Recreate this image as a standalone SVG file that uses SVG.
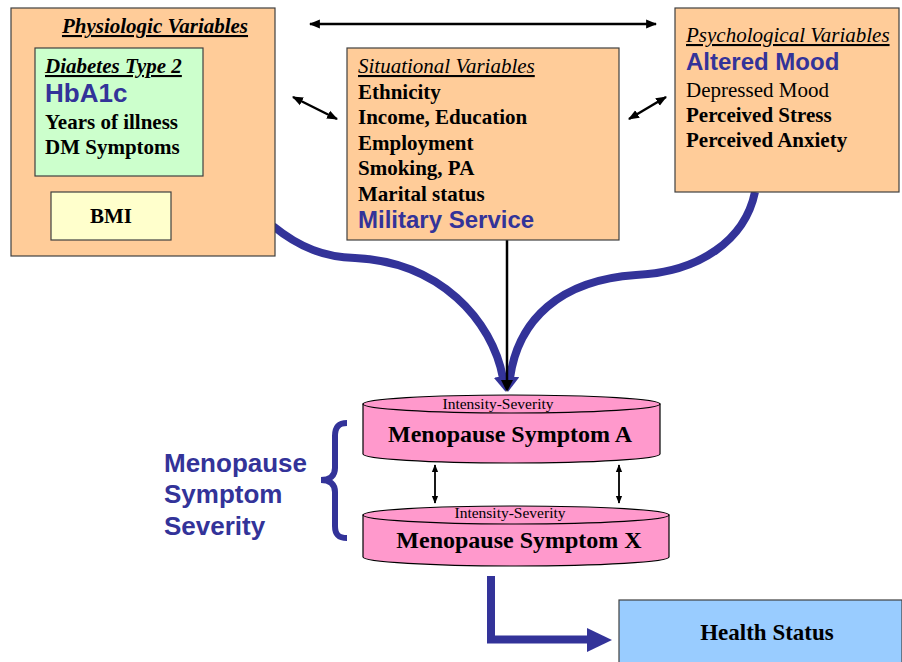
<svg xmlns="http://www.w3.org/2000/svg" width="902" height="662" viewBox="0 0 902 662">
<style>
.box{fill:#FFCC99;stroke:#404040;stroke-width:1.2}
.s{font-family:"Liberation Serif","Times New Roman",serif;font-size:21px;fill:#000}
.b{font-weight:bold}
.ti{font-style:italic;text-decoration:underline}
.small{font-size:15.5px}
.big{font-size:24px}
.blue{font-family:"Liberation Sans",Arial,sans-serif;font-weight:bold;fill:#333399}
.cyl{fill:#FF99CC;stroke:#000;stroke-width:1.2}
.bl{stroke:#000;stroke-width:2.5;fill:none}
.thick{stroke:#333399;stroke-width:8;fill:none}
</style>
<defs>
<marker id="ah" viewBox="0 0 10 10" refX="9" refY="5" markerWidth="11" markerHeight="11" markerUnits="userSpaceOnUse" orient="auto-start-reverse"><path d="M0,1 L10,5 L0,9 z" fill="#000"/></marker>
<marker id="ahs" viewBox="0 0 10 10" refX="9" refY="5" markerWidth="8" markerHeight="8" markerUnits="userSpaceOnUse" orient="auto-start-reverse"><path d="M0,1 L10,5 L0,9 z" fill="#000"/></marker>
<marker id="ahb" viewBox="0 0 16 18" refX="2" refY="9" markerWidth="16" markerHeight="18" markerUnits="userSpaceOnUse" orient="auto"><path d="M0,0 L16,9 L0,18 z" fill="#333399"/></marker>
<marker id="ahk" viewBox="0 0 12 12" refX="1" refY="6" markerWidth="12" markerHeight="12" markerUnits="userSpaceOnUse" orient="auto"><path d="M0,0 L12,6 L0,12 z" fill="#000"/></marker>
</defs>

<g id="connectors">
<path class="thick" d="M 273 226 C 300 248, 325 257, 355 258 C 440 262, 492 320, 503 378" marker-end="url(#ahb)"/>
<path class="thick" d="M 755 192 C 745 240, 700 272, 636 275 C 560 280, 518 320, 510 378" marker-end="url(#ahb)"/>
<line class="bl" x1="507" y1="240" x2="507" y2="381" marker-end="url(#ahk)"/>
<line class="bl" x1="310" y1="24" x2="656" y2="24" marker-start="url(#ah)" marker-end="url(#ah)"/>
<line class="bl" x1="293" y1="97" x2="337" y2="119" marker-start="url(#ah)" marker-end="url(#ah)"/>
<line class="bl" x1="629" y1="119" x2="666" y2="97" marker-start="url(#ah)" marker-end="url(#ah)"/>
<line x1="435" y1="465" x2="435" y2="503" stroke="#000" stroke-width="1.8" marker-start="url(#ahs)" marker-end="url(#ahs)"/>
<line x1="619" y1="465" x2="619" y2="503" stroke="#000" stroke-width="1.8" marker-start="url(#ahs)" marker-end="url(#ahs)"/>
<polyline points="491,576 491,639.5 590,639.5" fill="none" stroke="#333399" stroke-width="8"/>
<polygon points="587,628 612,640 587,652" fill="#333399"/>
</g>

<g id="physiologic">
<rect class="box" x="11" y="8" width="264" height="248"/>
<text class="s b ti" x="155" y="33" text-anchor="middle">Physiologic Variables</text>
</g>
<g id="diabetes">
<rect x="35" y="48" width="168" height="128" fill="#CCFFCC" stroke="#404040" stroke-width="1.2"/>
<text class="s b ti" x="45" y="73">Diabetes Type 2</text>
<text class="blue" x="45" y="102" font-size="26">HbA1c</text>
<text class="s b" x="45" y="129">Years of illness</text>
<text class="s b" x="45" y="154">DM Symptoms</text>
</g>
<g id="bmi">
<rect x="51" y="192" width="120" height="48" fill="#FFFFCC" stroke="#404040" stroke-width="1.2"/>
<text class="s b" x="111" y="223" text-anchor="middle">BMI</text>
</g>

<g id="situational">
<rect class="box" x="347" y="48" width="272" height="192"/>
<text class="s ti" x="358" y="73">Situational Variables</text>
<text class="s b" x="358" y="99">Ethnicity</text>
<text class="s b" x="358" y="124">Income, Education</text>
<text class="s b" x="358" y="150">Employment</text>
<text class="s b" x="358" y="175">Smoking, PA</text>
<text class="s b" x="358" y="201">Marital status</text>
<text class="blue" x="358" y="228" font-size="24">Military Service</text>
</g>

<g id="psychological">
<rect class="box" x="675" y="8" width="224" height="184"/>
<text class="s ti" x="686" y="42">Psychological Variables</text>
<text class="blue" x="686" y="70" font-size="24">Altered Mood</text>
<text class="s" x="686" y="97">Depressed Mood</text>
<text class="s b" x="686" y="122">Perceived Stress</text>
<text class="s b" x="686" y="147">Perceived Anxiety</text>
</g>

<g id="symptomA">
<path class="cyl" d="M 363 404 L 363 454 A 148.5 9 0 0 0 660 454 L 660 404 Z"/>
<ellipse class="cyl" cx="511.5" cy="404" rx="148.5" ry="9"/>
<text class="s small" x="498" y="409" text-anchor="middle">Intensity-Severity</text>
<text class="s b big" x="510" y="442" text-anchor="middle">Menopause Symptom A</text>
</g>

<g id="symptomX">
<path class="cyl" d="M 363 515 L 363 557 A 153 9 0 0 0 669 557 L 669 515 Z"/>
<ellipse class="cyl" cx="516" cy="515" rx="153" ry="9"/>
<text class="s small" x="510" y="518" text-anchor="middle">Intensity-Severity</text>
<text class="s b big" x="519" y="548" text-anchor="middle">Menopause Symptom X</text>
</g>

<g id="severity">
<path d="M 347 423 C 338 423, 335 428, 335 436 L 335 468 C 335 476, 330 480, 321 480 C 330 480, 335 484, 335 492 L 335 526 C 335 534, 338 538, 347 538" fill="none" stroke="#333399" stroke-width="6"/>
<text class="blue" font-size="26"><tspan x="164" y="472">Menopause</tspan><tspan x="164" y="503">Symptom</tspan><tspan x="164" y="535">Severity</tspan></text>
</g>

<g id="health">
<rect x="619" y="600" width="283" height="70" fill="#99CCFF" stroke="#404040" stroke-width="1.2"/>
<text class="s b" x="767" y="640" style="font-size:23px" text-anchor="middle">Health Status</text>
</g>
</svg>
